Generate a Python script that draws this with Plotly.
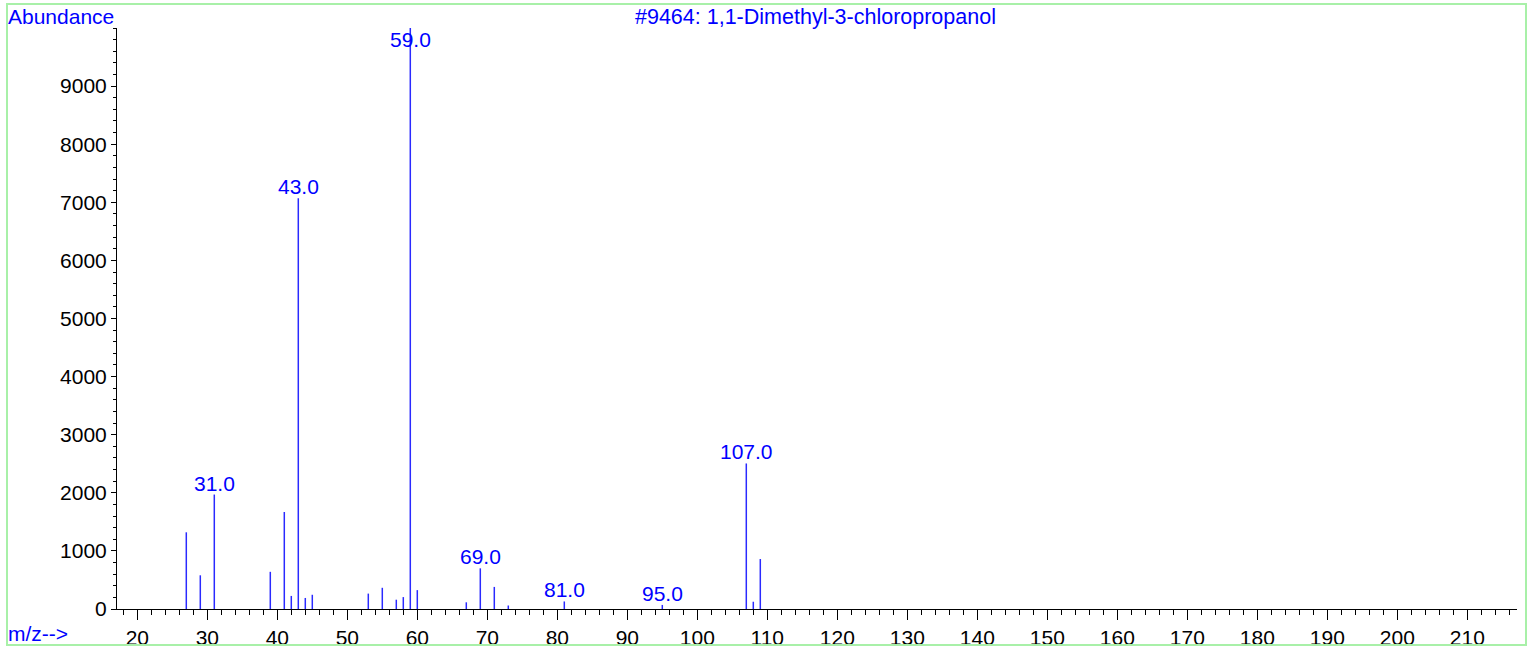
import plotly.graph_objects as go

mz = [27, 29, 31, 39, 41, 42, 43, 44, 45, 53, 55, 57, 58, 59, 60, 67, 69, 71, 73, 81, 95, 107, 108, 109]
abundance = [1320, 580, 1970, 640, 1670, 225, 7070, 190, 245, 265, 365, 160, 205, 10000, 325, 115, 700, 380, 60, 130, 70, 2505, 125, 860]
labelled = [31, 43, 59, 69, 81, 95, 107]
y_ticks = [0, 1000, 2000, 3000, 4000, 5000, 6000, 7000, 8000, 9000]
title_text = "#9464: 1,1-Dimethyl-3-chloropropanol"

FONT = "Liberation Sans, Arial, sans-serif"
FS = 21
BLUE = "#0000ff"

xs, ys = [], []
for m, a in zip(mz, abundance):
    xs += [m, m, None]
    ys += [0, a, None]

fig = go.Figure()
fig.add_trace(go.Scatter(x=xs, y=ys, mode="lines",
                         line=dict(color="#2a2aff", width=1.5),
                         hoverinfo="skip", showlegend=False))

W, H = 1529, 650
L, R, T, B = 117, 12, 28, 41
pw, ph = W - L - R, H - T - B

def px(p):
    return (p - L) / pw

def py(p):
    return (H - B - p) / ph

annotations = []
for m, a in zip(mz, abundance):
    if m in labelled:
        annotations.append(dict(x=m, y=min(a, 9600), xref="x", yref="y",
                                text=f"{m:.1f}", showarrow=False,
                                xanchor="center", yanchor="bottom", yshift=-2,
                                font=dict(family=FONT, size=FS, color=BLUE)))
annotations += [
    dict(x=px(6), y=py(17), xref="paper", yref="paper", text="Abundance",
         showarrow=False, xanchor="left", yanchor="middle",
         font=dict(family=FONT, size=FS, color=BLUE)),
    dict(x=px(6), y=py(634), xref="paper", yref="paper", text="m/z-->",
         showarrow=False, xanchor="left", yanchor="middle",
         font=dict(family=FONT, size=FS, color=BLUE)),
    dict(x=px(815), y=py(17), xref="paper", yref="paper", text=title_text,
         showarrow=False, xanchor="center", yanchor="middle",
         font=dict(family=FONT, size=21.5, color=BLUE)),
]

fig.update_layout(
    width=W, height=H,
    margin=dict(l=L, r=R, t=T, b=B, autoexpand=False),
    paper_bgcolor="white", plot_bgcolor="white",
    font=dict(family=FONT, size=FS, color="black"),
    annotations=annotations,
    shapes=[dict(type="rect", xref="paper", yref="paper",
                 x0=px(7), x1=px(1526), y0=py(645), y1=py(4),
                 line=dict(color="#a8f0a8", width=2), layer="above")],
    xaxis=dict(range=[17.1, 217.1], showgrid=False, zeroline=False,
               showline=True, linecolor="black", linewidth=1,
               ticks="outside", tickmode="linear", tick0=0, dtick=10,
               ticklen=10, tickcolor="black", tickwidth=1,
               minor=dict(ticks="outside", tick0=0, dtick=2, ticklen=5,
                          tickcolor="black", tickwidth=1, showgrid=False),
               tickfont=dict(family=FONT, size=FS, color="black")),
    yaxis=dict(range=[0, 10000], showgrid=False, zeroline=False,
               showline=True, linecolor="black", linewidth=1,
               ticks="outside", tickmode="array", tickvals=y_ticks,
               ticktext=[str(v) for v in y_ticks],
               ticklen=5, tickcolor="black", tickwidth=1,
               minor=dict(ticks="outside", tick0=0, dtick=200, ticklen=3,
                          tickcolor="black", tickwidth=1, showgrid=False),
               tickfont=dict(family=FONT, size=FS, color="black")),
)

fig.write_html("out.html", config={"displayModeBar": False},
               post_script="document.body.style.margin='0';document.body.style.overflow='hidden';")
